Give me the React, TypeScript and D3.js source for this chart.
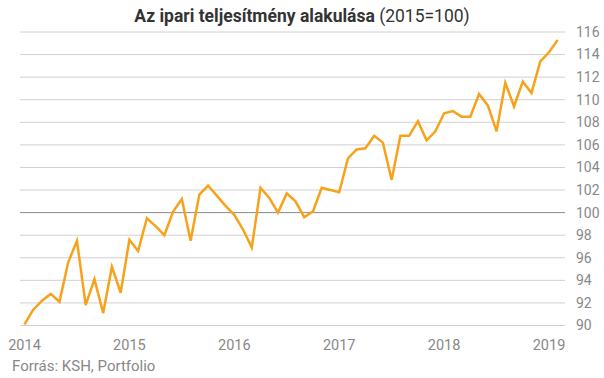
import React from "react";
import * as d3 from "d3";

const years = ["2014", "2015", "2016", "2017", "2018", "2019"];
const yTicks = [90, 92, 94, 96, 98, 100, 102, 104, 106, 108, 110, 112, 114, 116];
const values = [
  // 2014
  90.1, 91.4, 92.2, 92.8, 92.1, 95.6, 97.5, 91.8, 94.1, 91.1, 95.2, 92.9,
  // 2015
  97.6, 96.6, 99.5, 98.8, 98.0, 100.1, 101.2, 97.5, 101.6, 102.4, 101.5, 100.6,
  // 2016
  99.8, 98.5, 96.9, 102.2, 101.3, 100.0, 101.7, 101.0, 99.6, 100.1, 102.2, 102.0,
  // 2017
  101.8, 104.8, 105.6, 105.7, 106.8, 106.2, 102.9, 106.8, 106.8, 108.1, 106.4, 107.2,
  // 2018
  108.8, 109.0, 108.5, 108.5, 110.5, 109.5, 107.2, 111.5, 109.4, 111.6, 110.6, 113.4,
  // 2019
  114.2, 115.3,
];

const W = 604;
const H = 378;

export default function App() {
  const x = d3.scaleLinear().domain([0, 60]).range([24.5, 549]);
  const y = d3.scaleLinear().domain([90, 116]).range([325.5, 32]);
  const line = d3
    .line<number>()
    .x((_, i) => x(i))
    .y((d) => y(d));
  const font = "Roboto, 'Noto Sans', sans-serif";

  return (
    <svg
      width={W}
      height={H}
      style={{ position: "absolute", left: 0, top: 0, background: "#fff" }}
      fontFamily={font}
    >
      <text x={302} y={22} textAnchor="middle" fontSize={17.5} fill="#333">
        <tspan fontWeight="bold">Az ipari teljesítmény alakulása</tspan>
        <tspan> (2015=100)</tspan>
      </text>
      {yTicks.map((t) => (
        <g key={t}>
          <line
            x1={20}
            x2={565}
            y1={y(t)}
            y2={y(t)}
            stroke={t === 100 ? "#8a8a8a" : "#d0d0d0"}
            strokeWidth={1}
          />
          <text x={576} y={y(t)} dy="0.35em" fontSize={14} fill="#888">
            {t}
          </text>
        </g>
      ))}
      <path
        d={line(values) || ""}
        fill="none"
        stroke="#f7a21b"
        strokeWidth={2.5}
        strokeLinejoin="miter"
      />
      {years.map((yr, i) => (
        <text
          key={yr}
          x={x(i * 12)}
          y={350}
          textAnchor="middle"
          fontSize={14.5}
          fill="#888"
        >
          {yr}
        </text>
      ))}
      <text x={12} y={371} fontSize={15} fill="#888">
        Forrás: KSH, Portfolio
      </text>
    </svg>
  );
}
